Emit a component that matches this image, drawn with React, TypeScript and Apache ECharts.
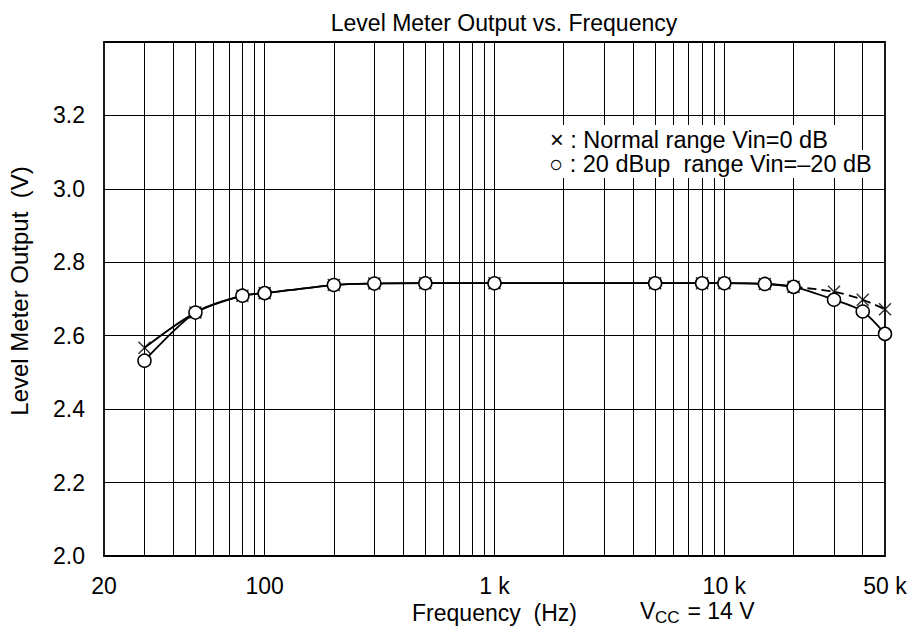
import React, { useEffect, useRef } from "react";
import * as echarts from "echarts";

const FREQ = [30, 50, 80, 100, 200, 300, 500, 1000, 5000, 8000, 10000, 15000, 20000, 30000, 40000, 50000];
const NORMAL = [2.567, 2.663, 2.709, 2.716, 2.738, 2.742, 2.743, 2.743, 2.743, 2.743, 2.743, 2.741, 2.733, 2.720, 2.698, 2.672];
const DBUP = [2.532, 2.663, 2.709, 2.716, 2.738, 2.742, 2.743, 2.743, 2.743, 2.743, 2.743, 2.741, 2.733, 2.698, 2.666, 2.605];
const GRID_FREQ = [
  30, 40, 50, 60, 70, 80, 90,
  100, 200, 300, 400, 500, 600, 700, 800, 900,
  1000, 2000, 3000, 4000, 5000, 6000, 7000, 8000, 9000,
  10000, 20000, 30000, 40000,
];
const X_LABEL_VALUES = [20, 100, 1000, 10000, 50000];
const X_LABEL_TEXT = ["20", "100", "1 k", "10 k", "50 k"];
const DASH_FROM = 20000;

const FONT = "'Liberation Sans', Arial, Helvetica, sans-serif";
const FS = 23;
const LEG_FS = 23.5;

export default function App() {
  const ref = useRef<HTMLDivElement>(null);
  useEffect(() => {
    if (!ref.current) return;
    const chart = echarts.init(ref.current, null, { renderer: "svg" });
    const pair = (ys: number[]) => FREQ.map((f, i) => [f, ys[i]]);
    const normalPts = pair(NORMAL);
    const dbupPts = pair(DBUP);
    const solidNormal = normalPts.filter((p) => p[0] <= DASH_FROM);
    const dashNormal = normalPts.filter((p) => p[0] >= DASH_FROM);
    const lineStyle = { color: "#000", width: 1.8 };
    const option: any = {
      animation: false,
      backgroundColor: "#fff",
      title: {
        text: "Level Meter Output vs. Frequency",
        left: 499,
        top: 6,
        textAlign: "center",
        textStyle: { fontSize: FS, fontWeight: "normal", color: "#000", fontFamily: FONT },
      },
      grid: {
        left: 104,
        right: 28,
        top: 42,
        bottom: 82,
        show: true,
        borderColor: "#000",
        borderWidth: 1.8,
        backgroundColor: "transparent",
      },
      xAxis: {
        type: "log",
        logBase: 10,
        min: 20,
        max: 50000,
        name: "Frequency  (Hz)",
        nameLocation: "middle",
        nameGap: 44,
        nameTextStyle: { fontSize: FS, color: "#000", fontFamily: FONT },
        axisLine: { show: false },
        axisTick: { show: false },
        splitLine: { show: false },
        axisLabel: {
          customValues: X_LABEL_VALUES,
          fontSize: FS,
          color: "#000",
          fontFamily: FONT,
          margin: 18,
          showMinLabel: true,
          showMaxLabel: true,
          formatter: (v: number) => {
            const i = X_LABEL_VALUES.findIndex((x) => Math.abs(x - v) / x < 1e-6);
            return i >= 0 ? X_LABEL_TEXT[i] : "";
          },
        },
      },
      yAxis: {
        type: "value",
        min: 2.0,
        max: 3.4,
        interval: 0.2,
        axisLine: { show: false },
        axisTick: { show: false },
        splitLine: { show: true, lineStyle: { color: "#000", width: 1 } },
        axisLabel: {
          fontSize: FS,
          color: "#000",
          fontFamily: FONT,
          margin: 19,
          formatter: (v: number) => (v > 3.35 ? "" : v.toFixed(1)),
        },
      },
      graphic: [
        {
          type: "text",
          x: 19,
          y: 291,
          rotation: Math.PI / 2,
          style: {
            text: "Level Meter Output  (V)",
            fontSize: 24,
            fontFamily: FONT,
            fill: "#000",
            textAlign: "center",
            textVerticalAlign: "middle",
          },
        },
        { type: "rect", z: 50, shape: { x: 540, y: 125, width: 300, height: 27 }, style: { fill: "#fff" } },
        { type: "rect", z: 50, shape: { x: 540, y: 150, width: 343, height: 28 }, style: { fill: "#fff" } },
        {
          type: "text",
          z: 51,
          x: 550,
          y: 140,
          style: {
            text: "\u00d7 : Normal range Vin=0 dB",
            fontSize: LEG_FS,
            fontFamily: FONT,
            fill: "#000",
            textVerticalAlign: "middle",
          },
        },
        {
          type: "text",
          z: 51,
          x: 549,
          y: 164,
          style: {
            text: "\u25cb : 20 dBup  range Vin=\u201320 dB",
            fontSize: LEG_FS,
            fontFamily: FONT,
            fill: "#000",
            textVerticalAlign: "middle",
          },
        },
        {
          type: "text",
          x: 640,
          y: 611,
          style: { text: "V", fontSize: FS, fontFamily: FONT, fill: "#000", textVerticalAlign: "middle" },
        },
        {
          type: "text",
          x: 655,
          y: 617,
          style: { text: "CC", fontSize: 17, fontFamily: FONT, fill: "#000", textVerticalAlign: "middle" },
        },
        {
          type: "text",
          x: 681,
          y: 611,
          style: { text: " = 14 V", fontSize: FS, fontFamily: FONT, fill: "#000", textVerticalAlign: "middle" },
        },
      ],
      series: [
        {
          type: "line",
          data: [[20, 2.0]],
          showSymbol: false,
          lineStyle: { width: 0, opacity: 0 },
          silent: true,
          z: 1,
          markLine: {
            silent: true,
            symbol: ["none", "none"],
            label: { show: false },
            animation: false,
            lineStyle: { type: "solid", color: "#000", width: 1 },
            emphasis: { disabled: true },
            data: GRID_FREQ.map((f) => ({ xAxis: f })),
          },
        },
        {
          type: "line",
          data: solidNormal,
          showSymbol: false,
          smooth: 0.3,
          lineStyle,
          z: 3,
          silent: true,
        },
        {
          type: "line",
          data: dashNormal,
          showSymbol: false,
          smooth: 0.3,
          lineStyle: { ...lineStyle, type: [9, 5] },
          z: 3,
          silent: true,
        },
        {
          type: "line",
          data: dbupPts,
          showSymbol: false,
          smooth: 0.3,
          lineStyle,
          z: 3,
          silent: true,
        },
        {
          type: "scatter",
          data: normalPts,
          symbol: "path://M0,0L10,10M10,0L0,10",
          symbolSize: 12,
          itemStyle: { color: "none", borderColor: "#000", borderWidth: 1.5 },
          z: 4,
          silent: true,
        },
        {
          type: "scatter",
          data: dbupPts,
          symbol: "circle",
          symbolSize: 13,
          itemStyle: { color: "#fff", borderColor: "#000", borderWidth: 1.5, opacity: 1 },
          z: 5,
          silent: true,
        },
      ],
    };
    chart.setOption(option);
    return () => chart.dispose();
  }, []);
  return <div ref={ref} style={{ width: 913, height: 638, position: "absolute", left: 0, top: 0 }} />;
}
